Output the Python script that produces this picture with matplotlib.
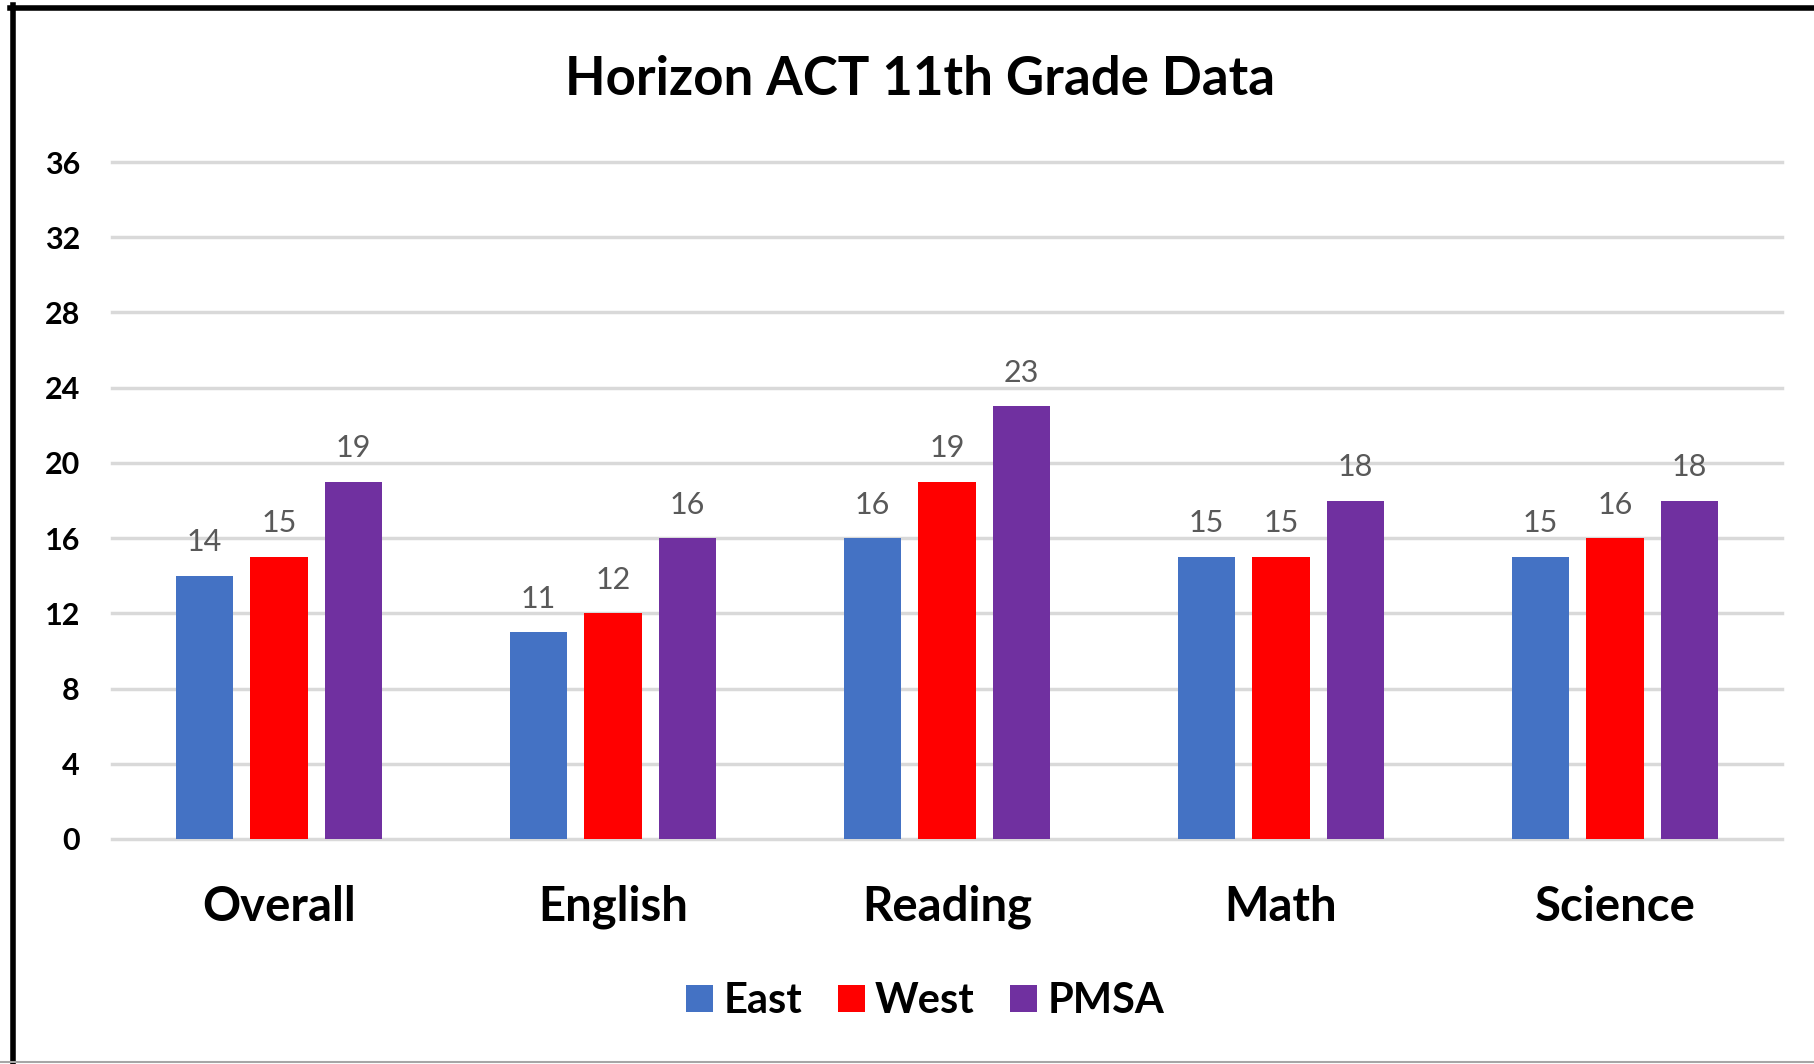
import matplotlib
matplotlib.use("Agg")
import matplotlib.pyplot as plt
from matplotlib.patches import Patch
from matplotlib.lines import Line2D
import numpy as np

# Chart data
categories = ["Overall", "English", "Reading", "Math", "Science"]
series_names = ["East", "West", "PMSA"]
east = [14, 11, 16, 15, 15]
west = [15, 12, 19, 15, 16]
pmsa = [19, 16, 23, 18, 18]
y_ticks = [0, 4, 8, 12, 16, 20, 24, 28, 32, 36]

colors = ["#4472C4", "#FF0000", "#7030A0"]
plt.rcParams["font.family"] = ["Lato", "DejaVu Sans"]

fig = plt.figure(figsize=(18.14, 10.64), dpi=100)
ax = fig.add_axes([0.0617, 0.2115, 0.9207, 0.6362])

x = np.arange(len(categories))
bar_w = 0.172
step = 0.2235
for i, (vals, name, col) in enumerate(zip([east, west, pmsa], series_names, colors)):
    pos = x + (i - 1) * step
    bars = ax.bar(pos, vals, width=bar_w, color=col, label=name, zorder=3)
    for b, v in zip(bars, vals):
        ax.annotate(str(v), xy=(b.get_x() + b.get_width() / 2, v),
                    xytext=(0, 14), textcoords="offset points",
                    ha="center", va="bottom", fontsize=22, color="#595959")

ax.set_xlim(-0.5, len(categories) - 0.5)
ax.set_ylim(0, 36)
ax.set_yticks(y_ticks)
ax.set_yticklabels([str(t) for t in y_ticks], fontsize=22, fontweight="bold")
ax.set_xticks(x)
ax.set_xticklabels(categories, fontsize=34, fontweight="bold")
ax.tick_params(axis="y", length=0, pad=23)
ax.tick_params(axis="x", length=0, pad=33)
for s in ax.spines.values():
    s.set_visible(False)
for t in y_ticks:
    ax.axhline(t, color="#D9D9D9", linewidth=2.5, zorder=1, clip_on=False)

fig.suptitle("Horizon ACT 11th Grade Data", fontsize=38, fontweight="bold",
             x=0.507, y=0.925, va="center")

handles = [Patch(facecolor=c, label=n) for c, n in zip(colors, series_names)]
fig.legend(handles=handles, loc="center", bbox_to_anchor=(0.51, 0.059), ncol=3,
           frameon=False, prop={"weight": "bold", "size": 30},
           handlelength=0.65, handleheight=0.65, handletextpad=0.25, columnspacing=0.85)

# Outer frame: heavy black top and left edges, thin grey bottom
fig.add_artist(Line2D([0.0055, 1.0], [0.9925, 0.9925], color="black", linewidth=4,
                      transform=fig.transFigure))
fig.add_artist(Line2D([0.0071, 0.0071], [0.0, 0.995], color="black", linewidth=4,
                      transform=fig.transFigure))
fig.add_artist(Line2D([0.0, 1.0], [0.0015, 0.0015], color="#A6A6A6", linewidth=1.5,
                      transform=fig.transFigure))

fig.savefig("out.png", dpi=100)
